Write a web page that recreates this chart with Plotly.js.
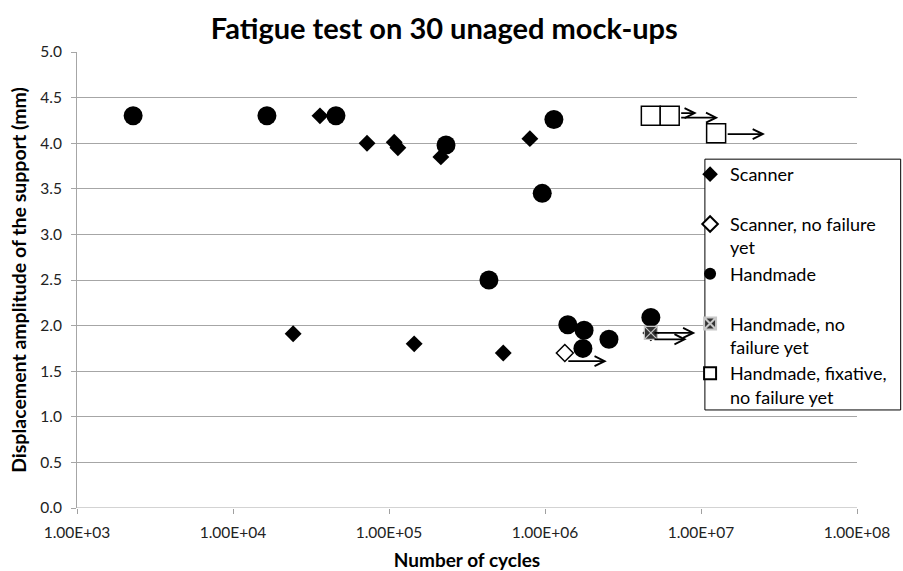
<!DOCTYPE html>
<html>
<head>
<meta charset="utf-8">
<script src="https://cdn.plot.ly/plotly-3.0.1.min.js"></script>
<style>html,body{margin:0;padding:0;background:#fff;}#chart{width:903px;height:571px;}</style>
</head>
<body>
<div id="chart"></div>
<script>
// ---- data (cycles, displacement amplitude in mm) ----
const scannerCycles = [36100, 72300, 108000, 114000, 215000, 800000, 24300, 145000, 540000, 4770000];
const scannerAmp    = [4.30, 4.00, 4.01, 3.95, 3.85, 4.05, 1.91, 1.80, 1.70, 1.92];

const scannerNoFailCycles = [1340000];
const scannerNoFailAmp    = [1.70];

const handmadeCycles = [2290, 16500, 45700, 232000, 1140000, 960000, 437000, 1400000, 1780000, 1750000, 2570000, 4770000];
const handmadeAmp    = [4.30, 4.30, 4.30, 3.98, 4.26, 3.45, 2.50, 2.01, 1.95, 1.75, 1.85, 2.09];

const handmadeNoFailCycles = [4770000];
const handmadeNoFailAmp    = [1.92];

const fixativeCycles = [4770000, 6300000, 12500000];
const fixativeAmp    = [4.30, 4.30, 4.11];

// run-out arrows: from cycles -> to cycles, at amplitude
const arrowFrom = [7300000, 7300000, 14500000, 1380000, 4920000, 4920000];
const arrowTo   = [9400000, 12900000, 25700000, 2490000, 9200000, 8100000];
const arrowAmp  = [4.33, 4.28, 4.10, 1.61, 1.92, 1.85];

const xTickVals = [1e3, 1e4, 1e5, 1e6, 1e7, 1e8];
const xTickText = ['1.00E+03', '1.00E+04', '1.00E+05', '1.00E+06', '1.00E+07', '1.00E+08'];
const yTickVals = [0, 0.5, 1, 1.5, 2, 2.5, 3, 3.5, 4, 4.5, 5];
const yTickText = ['0.0', '0.5', '1.0', '1.5', '2.0', '2.5', '3.0', '3.5', '4.0', '4.5', '5.0'];

const seriesNames = [
  'Scanner<br>\u00a0',
  'Scanner, no failure<br>yet',
  'Handmade<br>\u00a0',
  'Handmade, no<br>failure yet',
  'Handmade, fixative,<br>no failure yet'
];

// ---- traces ----
const FONT = 'Lato, "Open Sans", sans-serif';
const traces = [
  {x: scannerCycles, y: scannerAmp, name: seriesNames[0], type: 'scatter', mode: 'markers',
   marker: {symbol: 'diamond', size: 13, color: '#000', line: {width: 0}}},
  {x: scannerNoFailCycles, y: scannerNoFailAmp, name: seriesNames[1], type: 'scatter', mode: 'markers',
   marker: {symbol: 'diamond', size: 13, color: '#fff', line: {width: 1.5, color: '#000'}}},
  {x: handmadeCycles, y: handmadeAmp, name: seriesNames[2], type: 'scatter', mode: 'markers',
   marker: {symbol: 'circle', size: 19, color: '#000', line: {width: 0}}},
  {x: handmadeNoFailCycles, y: handmadeNoFailAmp, name: seriesNames[3], type: 'scatter', mode: 'markers',
   marker: {symbol: 'square-x', size: 13, color: '#333', line: {width: 1.2, color: '#c8c8c8'}}},
  {x: fixativeCycles, y: fixativeAmp, name: seriesNames[4], type: 'scatter', mode: 'markers',
   marker: {symbol: 'square', size: 19, color: '#fff', line: {width: 1.5, color: '#000'}}}
];

const annotations = arrowFrom.map((f, i) => ({
  x: Math.log10(arrowTo[i]), y: arrowAmp[i],
  ax: Math.log10(f), ay: arrowAmp[i],
  xref: 'x', yref: 'y', axref: 'x', ayref: 'y',
  text: '', showarrow: true, arrowhead: 5, arrowsize: 1.1, arrowwidth: 1.8,
  arrowcolor: '#000', standoff: 0, startstandoff: 0
}));

const layout = {
  width: 903, height: 571,
  paper_bgcolor: '#fff', plot_bgcolor: '#fff',
  margin: {l: 77, r: 46, t: 52, b: 63, autoexpand: false},
  font: {family: FONT, color: '#222'},
  title: {text: '<b>Fatigue test on 30 unaged mock-ups</b>', font: {family: FONT, size: 29, color: '#000'},
          x: 0.492, xanchor: 'center', y: 0.95, yanchor: 'middle', yref: 'container'},
  xaxis: {
    type: 'log', range: [3, 8], tickvals: xTickVals, ticktext: xTickText,
    showgrid: false, zeroline: false, showline: false,
    ticks: 'outside', ticklen: 5, tickcolor: '#a0a0a0', tickwidth: 1,
    ticklabelstandoff: 5,
    tickfont: {family: FONT, size: 15.5, color: '#222'},
    title: {text: '<b>Number of cycles</b>', font: {family: FONT, size: 19, color: '#000'}, standoff: 14},
    automargin: false
  },
  yaxis: {
    range: [0, 5], tickvals: yTickVals, ticktext: yTickText,
    showgrid: true, gridcolor: '#a6a6a6', gridwidth: 1, zeroline: false,
    showline: true, linecolor: '#a6a6a6', linewidth: 1,
    ticks: 'outside', ticklen: 5, tickcolor: '#a6a6a6',
    ticklabelstandoff: 6,
    tickfont: {family: FONT, size: 15.5, color: '#222'},
    title: {text: '<b>Displacement amplitude of the support (mm)</b>', font: {family: FONT, size: 19.5, color: '#000'}, standoff: 8},
    automargin: false
  },
  shapes: [
    {type: 'line', xref: 'paper', yref: 'y', x0: 0, x1: 1, y0: 0, y1: 0, line: {color: '#a6a6a6', width: 1}, layer: 'below'},
    {type: 'rect', xref: 'paper', yref: 'paper', x0: 0.805, x1: 1.056, y0: 0.215, y1: 0.765,
     fillcolor: '#fff', line: {color: '#000', width: 1}, layer: 'above'}
  ],
  showlegend: true,
  legend: {
    x: 0.786, y: 0.772, xanchor: 'left', yanchor: 'top',
    bgcolor: 'rgba(0,0,0,0)', borderwidth: 0,
    font: {family: FONT, size: 18, color: '#000'},
    itemsizing: 'constant', itemwidth: 30, valign: 'top', tracegroupgap: 0
  },
  annotations: annotations
};

Plotly.newPlot('chart', traces, layout, {displayModeBar: false, staticPlot: true});
</script>
</body>
</html>
